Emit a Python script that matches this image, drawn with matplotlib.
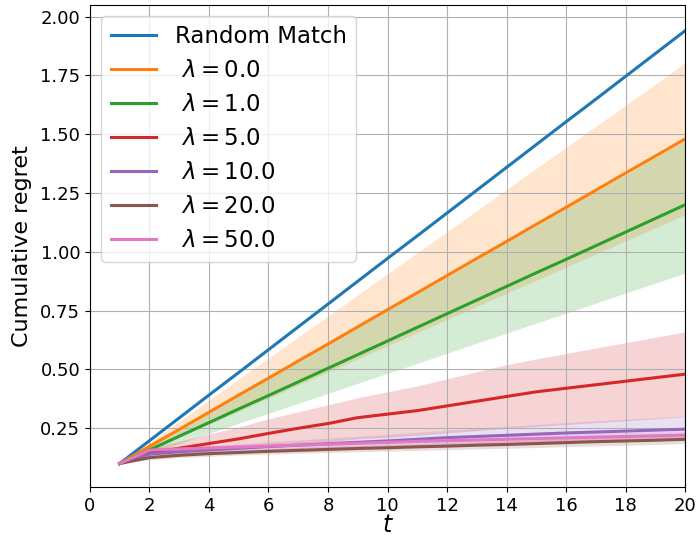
import matplotlib
matplotlib.use("Agg")
import matplotlib.pyplot as plt

t = list(range(1, 21))

random_match = [0.100, 0.197, 0.294, 0.391, 0.487, 0.584, 0.681, 0.778, 0.875, 0.972,
                1.068, 1.165, 1.262, 1.359, 1.456, 1.553, 1.649, 1.746, 1.843, 1.940]

lam_labels = ["0.0", "1.0", "5.0", "10.0", "20.0", "50.0"]

lam_mean = [
    [0.100, 0.173, 0.245, 0.318, 0.391, 0.463, 0.536, 0.608, 0.681, 0.754,
     0.826, 0.899, 0.972, 1.044, 1.117, 1.189, 1.262, 1.335, 1.407, 1.480],
    [0.100, 0.158, 0.216, 0.274, 0.332, 0.389, 0.447, 0.505, 0.563, 0.621,
     0.679, 0.737, 0.795, 0.853, 0.911, 0.968, 1.026, 1.084, 1.142, 1.200],
    [0.100, 0.145, 0.165, 0.185, 0.205, 0.228, 0.250, 0.270, 0.295, 0.310,
     0.325, 0.345, 0.365, 0.385, 0.405, 0.420, 0.435, 0.450, 0.465, 0.480],
    [0.100, 0.140, 0.150, 0.158, 0.165, 0.172, 0.178, 0.184, 0.190, 0.196,
     0.203, 0.210, 0.215, 0.220, 0.225, 0.230, 0.234, 0.238, 0.242, 0.246],
    [0.100, 0.125, 0.135, 0.142, 0.147, 0.152, 0.156, 0.160, 0.164, 0.167,
     0.171, 0.174, 0.178, 0.181, 0.185, 0.189, 0.193, 0.196, 0.199, 0.203],
    [0.100, 0.157, 0.162, 0.166, 0.170, 0.174, 0.178, 0.182, 0.186, 0.190,
     0.194, 0.197, 0.200, 0.203, 0.206, 0.209, 0.212, 0.215, 0.218, 0.221],
]

lam_lower = [
    [0.100, 0.156, 0.211, 0.267, 0.323, 0.378, 0.434, 0.490, 0.545, 0.601,
     0.657, 0.712, 0.768, 0.824, 0.879, 0.935, 0.991, 1.046, 1.102, 1.158],
    [0.100, 0.143, 0.185, 0.228, 0.271, 0.313, 0.356, 0.398, 0.441, 0.484,
     0.526, 0.569, 0.612, 0.654, 0.697, 0.739, 0.782, 0.825, 0.867, 0.910],
    [0.100, 0.128, 0.140, 0.150, 0.160, 0.172, 0.183, 0.193, 0.205, 0.212,
     0.220, 0.230, 0.240, 0.250, 0.258, 0.266, 0.274, 0.282, 0.290, 0.300],
    [0.100, 0.130, 0.138, 0.144, 0.149, 0.154, 0.158, 0.162, 0.166, 0.170,
     0.174, 0.178, 0.181, 0.184, 0.187, 0.190, 0.193, 0.196, 0.198, 0.200],
    [0.100, 0.117, 0.125, 0.131, 0.136, 0.140, 0.144, 0.147, 0.150, 0.153,
     0.156, 0.159, 0.162, 0.165, 0.168, 0.172, 0.175, 0.178, 0.181, 0.185],
    [0.100, 0.147, 0.151, 0.155, 0.158, 0.162, 0.165, 0.168, 0.172, 0.175,
     0.178, 0.181, 0.184, 0.187, 0.190, 0.192, 0.195, 0.198, 0.200, 0.203],
]

lam_upper = [
    [0.100, 0.190, 0.279, 0.369, 0.459, 0.548, 0.638, 0.727, 0.817, 0.907,
     0.996, 1.086, 1.175, 1.265, 1.355, 1.444, 1.534, 1.623, 1.713, 1.803],
    [0.100, 0.172, 0.245, 0.317, 0.389, 0.462, 0.534, 0.606, 0.678, 0.751,
     0.823, 0.895, 0.968, 1.040, 1.112, 1.185, 1.257, 1.329, 1.402, 1.474],
    [0.100, 0.165, 0.195, 0.225, 0.255, 0.290, 0.320, 0.350, 0.380, 0.405,
     0.430, 0.460, 0.490, 0.520, 0.545, 0.568, 0.591, 0.614, 0.637, 0.660],
    [0.100, 0.152, 0.164, 0.174, 0.183, 0.192, 0.200, 0.208, 0.216, 0.224,
     0.233, 0.242, 0.250, 0.258, 0.266, 0.274, 0.281, 0.288, 0.295, 0.302],
    [0.100, 0.133, 0.145, 0.153, 0.159, 0.164, 0.168, 0.173, 0.177, 0.181,
     0.185, 0.189, 0.193, 0.197, 0.201, 0.205, 0.209, 0.213, 0.217, 0.221],
    [0.100, 0.167, 0.173, 0.177, 0.182, 0.186, 0.191, 0.196, 0.200, 0.205,
     0.210, 0.213, 0.216, 0.219, 0.222, 0.226, 0.229, 0.232, 0.236, 0.239],
]

colors = ["tab:orange", "tab:green", "tab:red", "tab:purple", "tab:brown", "tab:pink"]

fig = plt.figure(figsize=(6.97, 5.37), dpi=100)
ax = fig.add_axes([0.129, 0.093, 0.854, 0.898])

ax.plot(t, random_match, color="tab:blue", lw=2.2, label="Random Match")
for i, lab in enumerate(lam_labels):
    ax.plot(t, lam_mean[i], color=colors[i], lw=2.2, label=rf" $\lambda = {lab}$")
    ax.fill_between(t, lam_lower[i], lam_upper[i], color=colors[i], alpha=0.2, lw=0)

ax.set_xlim(0, 20)
ax.set_ylim(0, 2.05)
ax.set_xticks(range(0, 21, 2))
yt = [0.25, 0.5, 0.75, 1.0, 1.25, 1.5, 1.75, 2.0]
ax.set_yticks(yt)
ax.set_yticklabels([f"{v:.2f}" for v in yt])
ax.tick_params(labelsize=13)
ax.grid(True)
ax.set_xlabel("$t$", fontsize=17, labelpad=-1)
ax.set_ylabel("Cumulative regret", fontsize=16, labelpad=6)
ax.legend(loc="upper left", fontsize=16.5, labelspacing=0.48)

fig.savefig("out.png", dpi=100)
